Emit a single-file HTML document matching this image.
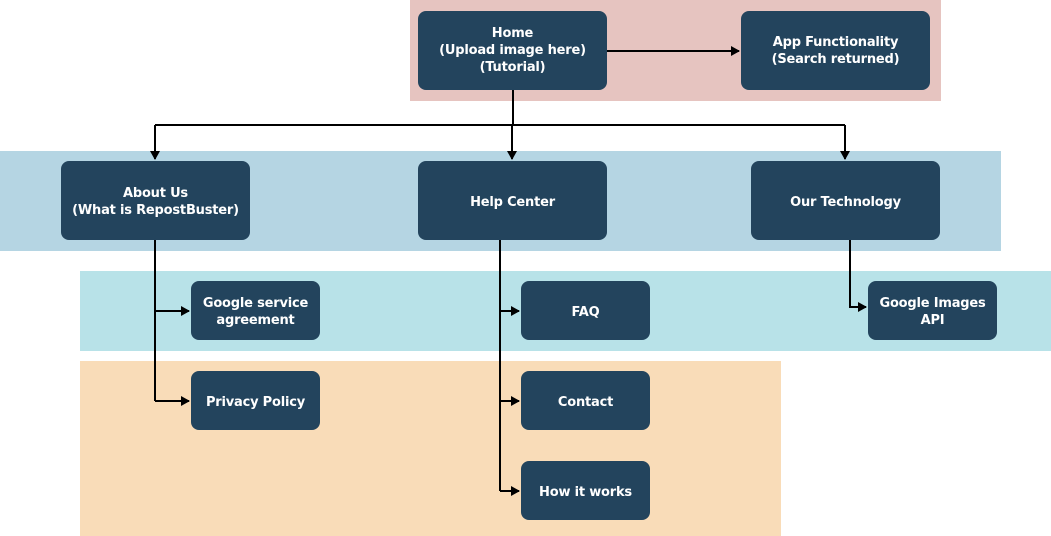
<!DOCTYPE html>
<html><head><meta charset="utf-8"><style>
body{margin:0;width:1051px;height:536px;background:#fff;position:relative;overflow:hidden;font-family:"DejaVu Sans","Liberation Sans",sans-serif}
.band{position:absolute}
.n{position:absolute;background:#23445d;border-radius:8px;color:#fff;font-weight:bold;font-size:13px;display:flex;align-items:center;justify-content:center;text-align:center;line-height:17px;letter-spacing:-0.2px;box-sizing:border-box;padding-top:3px}
svg{position:absolute;left:0;top:0}
</style></head><body>
<div class="band" style="left:410px;top:0;width:531px;height:101px;background:#e6c4c0"></div>
<div class="band" style="left:0;top:151px;width:1001px;height:100px;background:#b5d5e3"></div>
<div class="band" style="left:80px;top:271px;width:971px;height:80px;background:#b8e2e8"></div>
<div class="band" style="left:80px;top:361px;width:701px;height:175px;background:#f9dcb8"></div>
<svg width="1051" height="536">
<defs><marker id="a" markerWidth="10" markerHeight="10" refX="8" refY="5" orient="auto" markerUnits="userSpaceOnUse"><path d="M0,0 L9,5 L0,10 Z" fill="#000"/></marker></defs>
<g stroke="#000" stroke-width="2" fill="none">
<path d="M607,51 H739" marker-end="url(#a)"/>
<path d="M513,90 V125"/>
<path d="M155,125 H845"/>
<path d="M155,125 V159" marker-end="url(#a)"/>
<path d="M512,125 V159" marker-end="url(#a)"/>
<path d="M845,125 V159" marker-end="url(#a)"/>
<path d="M155,240 V401"/>
<path d="M155,311 H189" marker-end="url(#a)"/>
<path d="M155,401 H189" marker-end="url(#a)"/>
<path d="M500,240 V491"/>
<path d="M500,311 H519" marker-end="url(#a)"/>
<path d="M500,401 H519" marker-end="url(#a)"/>
<path d="M500,491 H519" marker-end="url(#a)"/>
<path d="M850,235 V307 H866" marker-end="url(#a)"/>
</g></svg>
<div class="n" style="left:418px;top:11px;width:189px;height:79px;padding-top:0">Home<br>(Upload image here)<br>(Tutorial)</div>
<div class="n" style="left:741px;top:11px;width:189px;height:79px;padding-top:0">App Functionality<br>(Search returned)</div>
<div class="n" style="left:61px;top:161px;width:189px;height:79px">About Us<br>(What is RepostBuster)</div>
<div class="n" style="left:418px;top:161px;width:189px;height:79px">Help Center</div>
<div class="n" style="left:751px;top:161px;width:189px;height:79px">Our Technology</div>
<div class="n" style="left:191px;top:281px;width:129px;height:59px">Google service<br>agreement</div>
<div class="n" style="left:191px;top:371px;width:129px;height:59px">Privacy Policy</div>
<div class="n" style="left:521px;top:281px;width:129px;height:59px">FAQ</div>
<div class="n" style="left:521px;top:371px;width:129px;height:59px">Contact</div>
<div class="n" style="left:521px;top:461px;width:129px;height:59px">How it works</div>
<div class="n" style="left:868px;top:281px;width:129px;height:59px">Google Images<br>API</div>
</body></html>
